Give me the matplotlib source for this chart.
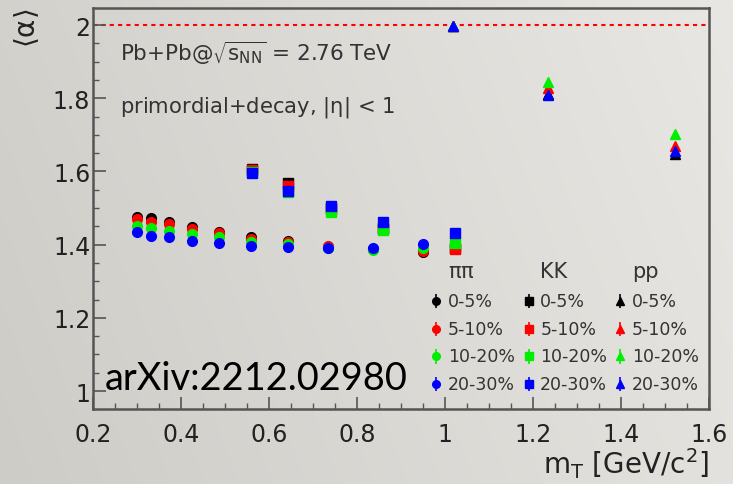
import numpy as np
import matplotlib
matplotlib.use("Agg")
import matplotlib.pyplot as plt
from matplotlib.ticker import MultipleLocator

plt.rcParams['font.family'] = ['DejaVu Sans']
plt.rcParams['mathtext.fontset'] = 'dejavusans'
plt.rcParams['mathtext.default'] = 'regular'

# ---- data ----
centralities = ["0-5%", "5-10%", "10-20%", "20-30%"]
colors = ["black", "#ff0000", "#00ee00", "#0000ff"]

pion_mt = [0.300, 0.331, 0.372, 0.425, 0.486, 0.558, 0.642, 0.733, 0.836, 0.951]
pion_alpha = [
    [1.476, 1.472, 1.461, 1.447, 1.435, 1.420, 1.411, 1.393, 1.387, 1.379],  # 0-5%
    [1.470, 1.463, 1.456, 1.443, 1.432, 1.415, 1.408, 1.395, 1.388, 1.383],  # 5-10%
    [1.452, 1.445, 1.438, 1.429, 1.420, 1.408, 1.402, 1.392, 1.386, 1.390],  # 10-20%
    [1.434, 1.424, 1.420, 1.411, 1.404, 1.397, 1.394, 1.392, 1.392, 1.401],  # 20-30%
]

kaon_mt = [0.562, 0.642, 0.740, 0.860, 1.023]
kaon_alpha = [
    [1.606, 1.568, 1.500, 1.445, 1.390],
    [1.605, 1.561, 1.498, 1.444, 1.388],
    [1.598, 1.543, 1.490, 1.441, 1.404],
    [1.596, 1.547, 1.505, 1.461, 1.432],
]

proton_mt = [1.018, 1.233, 1.523]
proton_alpha = [
    [1.998, 1.812, 1.648],
    [1.998, 1.827, 1.670],
    [1.998, 1.843, 1.702],
    [1.998, 1.809, 1.657],
]

species = [
    (r"$\pi\pi$", "o", pion_mt, pion_alpha, 7.0),
    ("KK", "s", kaon_mt, kaon_alpha, 7.0),
    ("pp", "^", proton_mt, proton_alpha, 7.0),
]

fig = plt.figure(figsize=(7.33, 4.85), dpi=100)

# slide-like gray gradient background
bg = fig.add_axes([0, 0, 1, 1], zorder=0)
gx = np.linspace(0, 1, 256)
gy = np.linspace(0, 1, 64)
grad = 0.80 * gx[None, :] + 0.20 * gy[:, None]
base0 = np.array([206, 204, 199]) / 255.0
base1 = np.array([233, 231, 227]) / 255.0
img = base0[None, None, :] + grad[:, :, None] * (base1 - base0)[None, None, :]
bg.imshow(img, aspect='auto', extent=[0, 1, 0, 1], origin='lower')
bg.axis('off')

ax = fig.add_axes([0.1269, 0.1546, 0.8404, 0.8268], zorder=1)
ax.patch.set_alpha(0)

ax.axhline(2.0, color='#ff0000', ls=(0, (2, 2)), lw=1.5, zorder=1)

for label, marker, xs, ys, ms in species:
    for cent, col, yv in zip(centralities, colors, ys):
        ax.plot(xs, yv, ls='none', marker=marker, ms=ms, color=col,
                mec=col, zorder=3)

ax.set_xlim(0.2, 1.6)
ax.set_ylim(0.9508, 2.0464)
ax.xaxis.set_major_locator(MultipleLocator(0.2))
ax.xaxis.set_minor_locator(MultipleLocator(0.05))
ax.yaxis.set_major_locator(MultipleLocator(0.2))
ax.yaxis.set_minor_locator(MultipleLocator(0.05))
fmt = matplotlib.ticker.FuncFormatter(lambda v, p: f"{v:g}")
ax.xaxis.set_major_formatter(fmt)
ax.yaxis.set_major_formatter(fmt)

frame_col = '#555555'
for sp in ax.spines.values():
    sp.set_color(frame_col)
    sp.set_linewidth(1.8)
ax.tick_params(which='both', direction='in', top=False, right=False,
               color=frame_col, labelcolor='#222222')
ax.tick_params(which='major', length=9, width=1.2, labelsize=17)
ax.tick_params(which='minor', length=4.5, width=1.0)
ax.tick_params(axis='x', which='major', pad=9)
ax.tick_params(axis='y', which='major', pad=2)

# axis titles in ROOT style
fig.text(0.9673, 0.022, r"$m_{T}$ [GeV/c$^{2}$]", ha='right', va='baseline',
         fontsize=20, color='#222222')
fig.text(0.036, 0.982, r"$\langle\alpha\rangle$", ha='center', va='top',
         rotation=90, fontsize=20, color='#222222')

# annotations
ax.text(0.044, 0.870, r"Pb+Pb@$\sqrt{s_{NN}}$ = 2.76 TeV", transform=ax.transAxes,
        fontsize=15.5, color='#333333', va='baseline')
ax.text(0.044, 0.743, r"primordial+decay, |$\eta$| < 1", transform=ax.transAxes,
        fontsize=15.2, color='#333333', va='baseline')
ax.text(0.019, 0.050, "arXiv:2212.02980", transform=ax.transAxes,
        fontsize=27.4, color='black', va='baseline', family=['Lato', 'DejaVu Sans'])

# legend drawn as three columns with headers
marker_x = [0.556, 0.707, 0.856]
text_x = [0.576, 0.726, 0.875]
row_y = [0.270, 0.1995, 0.131, 0.062]
for (label, marker, xs, ys, ms), mx, tx in zip(species, marker_x, text_x):
    ax.text(tx, 0.345, label, transform=ax.transAxes, fontsize=15,
            color='#333333', va='center', ha='left')
    for cent, col, ry in zip(centralities, colors, row_y):
        ax.errorbar([mx], [ry], yerr=[0.018], transform=ax.transAxes,
                    marker=marker, ms=5.5, color=col, elinewidth=1.2,
                    capsize=0, ls='none', zorder=3)
        ax.text(tx, ry, cent, transform=ax.transAxes, fontsize=12.5,
                color='#333333', va='center', ha='left')

fig.savefig("out.png", dpi=100)
